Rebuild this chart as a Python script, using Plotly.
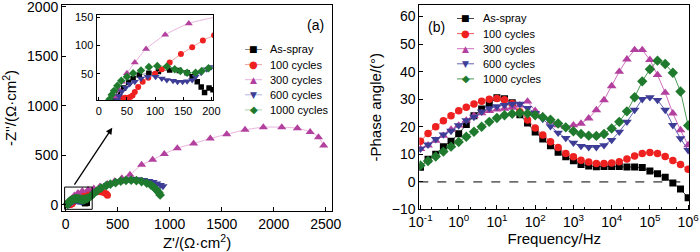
import plotly.graph_objects as go

# ---------------- Nyquist data (Z', -Z'') ----------------
as_zr = [22, 27, 36, 44, 53, 61, 72, 89, 106, 126, 143, 157, 166, 175, 182, 188, 196, 203]
as_zi = [2, 9, 16, 25, 35, 42, 48, 51, 54, 57, 56, 52, 45, 36, 27, 17, 25, 22]

c100_zr = [38, 42, 47, 52, 56, 60, 64, 70, 78, 88, 100, 112, 126, 146, 166, 185, 205, 228, 255, 290, 330, 365, 390, 402]
c100_zi = [4, 7, 8, 8, 9, 12, 18, 27, 36, 43, 50, 58, 70, 85, 97, 109, 118, 127, 134, 136, 132, 125, 112, 98]

c300_zr = [30, 36, 41, 50, 64, 84, 118, 160, 215, 270, 330, 400, 470, 540, 618, 730, 836, 948, 1073, 1230,
           1390, 1548, 1724, 1900, 2077, 2227, 2350, 2430, 2480]
c300_zi = [9, 22, 36, 51, 70, 94, 119, 139, 152, 165, 185, 210, 238, 268, 305, 405, 455, 515, 573, 620,
           670, 714, 758, 785, 785, 775, 737, 684, 600]

c600_zr = [33, 36, 41, 48, 55, 64, 75, 87, 101, 112, 121, 132, 140, 149, 157, 166, 172, 182, 192, 200,
           215, 245, 275, 310, 350, 400, 450, 500, 550, 600, 650, 700, 750, 800, 840, 875, 910, 935]
c600_zi = [4, 11, 19, 26, 32, 36, 42, 45, 45, 42, 39, 38, 36, 36, 37, 39, 45, 52, 58, 62,
           70, 90, 115, 145, 175, 200, 222, 238, 250, 258, 262, 260, 252, 240, 230, 215, 200, 188]

c1000_zr = [19, 23, 27, 33, 40, 50, 61, 75, 89, 104, 121, 135, 145, 157, 172, 183, 195, 210, 240, 265,
            300, 340, 390, 430, 480, 530, 580, 630, 680, 730, 780, 820, 850, 875, 895, 908]
c1000_zi = [5, 13, 20, 29, 38, 45, 51, 56, 62, 64, 63, 58, 55, 52, 52, 55, 60, 65, 85, 110,
            140, 170, 195, 210, 225, 240, 248, 250, 245, 235, 220, 200, 175, 150, 125, 100]

# ---------------- Bode data (phase angle) ----------------
freq = [0.1, 0.158, 0.251, 0.398, 0.631, 1.0, 1.58, 2.51, 3.98, 6.31,
        10, 15.8, 25.1, 39.8, 63.1, 100, 158, 251, 398, 631,
        1000, 1580, 2510, 3980, 6310, 1e4, 1.58e4, 2.51e4, 3.98e4, 6.31e4,
        1e5, 1.58e5, 2.51e5, 3.98e5, 6.31e5, 1e6]
ph_as = [5.3, 8.2, 10.0, 12.8, 14.8, 17.5, 20.8, 24.0, 26.5, 28.5,
         30.5, 30.2, 28.7, 24.4, 21.4, 18.1, 15.6, 13.1, 10.8, 9.1,
         7.7, 6.3, 5.8, 5.5, 5.6, 5.6, 5.6, 5.4, 5.4, 5.2,
         4.0, 3.0, 1.7, -0.4, -2.6, -5.7]
ph_100 = [14.8, 17.6, 20.0, 22.2, 24.0, 25.8, 27.1, 28.3, 29.3, 30.0,
          30.3, 29.8, 28.5, 25.5, 22.5, 19.6, 17.0, 14.6, 12.5, 10.3,
          9.1, 7.9, 7.2, 6.7, 6.7, 6.9, 7.3, 8.3, 9.4, 10.3,
          10.7, 10.3, 9.2, 7.8, 6.3, 4.6]
ph_300 = [12.0, 13.3, 15.0, 16.8, 19.0, 20.5, 22.3, 24.0, 25.0, 25.8,
          26.3, 26.6, 27.0, 27.8, 29.2, 25.8, 23.8, 21.9, 20.6, 20.0,
          20.6, 21.2, 23.1, 26.1, 29.7, 34.8, 40.0, 44.5, 47.9, 47.9,
          44.3, 38.8, 32.4, 24.9, 18.8, 13.4]
ph_600 = [12.0, 13.5, 15.5, 17.2, 18.5, 20.5, 22.3, 23.6, 25.5, 26.7,
          27.4, 27.9, 28.3, 28.3, 26.8, 25.0, 22.8, 20.2, 17.8, 15.9,
          14.2, 13.0, 12.6, 12.6, 13.3, 15.2, 18.2, 21.8, 26.1, 30.0,
          30.7, 29.7, 26.1, 20.6, 15.8, 11.5]
ph_1000 = [6.0, 7.6, 9.2, 11.0, 12.8, 14.5, 16.4, 18.2, 20.0, 21.8,
           23.2, 24.2, 24.7, 25.0, 24.8, 24.2, 23.5, 22.6, 21.2, 19.8,
           18.4, 17.4, 16.8, 16.7, 17.4, 19.4, 21.8, 25.6, 30.7, 36.5,
           40.9, 44.0, 42.8, 39.6, 32.8, 20.5]

# tick labels
freq_tickvals = [0.1, 1, 10, 100, 1000, 1e4, 1e5, 1e6]
freq_ticktext = ["10<sup>-1</sup>", "10<sup>0</sup>", "10<sup>1</sup>", "10<sup>2</sup>",
                 "10<sup>3</sup>", "10<sup>4</sup>", "10<sup>5</sup>", "10<sup>6</sup>"]

names = ["As-spray", "100 cycles", "300 cycles", "600 cycles", "1000 cycles"]
nyq_x = [as_zr, c100_zr, c300_zr, c600_zr, c1000_zr]
nyq_y = [as_zi, c100_zi, c300_zi, c600_zi, c1000_zi]
bode_y = [ph_as, ph_100, ph_300, ph_600, ph_1000]

symbols = ["square", "circle", "triangle-up", "triangle-down", "diamond"]
glyphs = ["■", "●", "▲", "▼", "◆"]
glyph_sizes = [9, 10, 9, 9, 10]
mcolors = ["#000000", "#ee2020", "#b3409e", "#3d3d96", "#1f7a2e"]
nyq_line = ["#8a8a8a", "#f3a0a0", "#e9b3de", "#b4b4e2", "#a6d3a8"]
bode_line = ["#444444", "#f05a5a", "#cf6fbf", "#6464b4", "#4c9a55"]
msize = [6.5, 7, 8, 8, 7.5]

FONT = "Liberation Sans, Arial, sans-serif"
W, H = 700, 252
fig = go.Figure()

for i in range(5):
    fig.add_trace(go.Scatter(
        x=nyq_x[i], y=nyq_y[i], name=names[i], mode="lines+markers", showlegend=False,
        line=dict(color=nyq_line[i], width=1, shape="spline", smoothing=0.6),
        marker=dict(symbol=symbols[i], color=mcolors[i], size=msize[i], line=dict(width=0)),
        xaxis="x", yaxis="y"))
for i in range(5):
    fig.add_trace(go.Scatter(
        x=nyq_x[i], y=nyq_y[i], name=names[i], mode="lines+markers", showlegend=False,
        line=dict(color=nyq_line[i], width=1, shape="spline", smoothing=0.6),
        marker=dict(symbol=symbols[i], color=mcolors[i], size=msize[i] - 1, line=dict(width=0)),
        xaxis="x3", yaxis="y3"))
for i in range(5):
    fig.add_trace(go.Scatter(
        x=freq, y=bode_y[i], name=names[i], mode="lines+markers", showlegend=False,
        line=dict(color=bode_line[i], width=1),
        marker=dict(symbol=symbols[i], color=mcolors[i], size=msize[i] + 0.5, line=dict(width=0)),
        xaxis="x2", yaxis="y2"))

axis_common = dict(showline=True, linecolor="black", linewidth=1, mirror=True,
                   ticks="inside", ticklen=4, tickcolor="black", showgrid=False,
                   zeroline=False, tickfont=dict(size=14, color="black", family=FONT),
                   automargin=False, ticklabeloverflow="allow")
inset_common = {**axis_common, "tickfont": dict(size=11, color="black", family=FONT), "ticklen": 3}

fig.update_layout(
    width=W, height=H,
    margin=dict(l=0, r=0, t=0, b=0),
    paper_bgcolor="white", plot_bgcolor="white",
    font=dict(family=FONT, color="black"),
    showlegend=False,
    hovermode=False,
    xaxis=dict(domain=[0.0886, 0.4743], range=[-35, 2560], tickvals=[0, 500, 1000, 1500, 2000, 2500],
               title=dict(text="Z'/(Ω·cm<sup>2</sup>)", font=dict(size=15), standoff=4), **axis_common),
    yaxis=dict(domain=[0.1627, 0.9802], range=[-62, 2020], tickvals=[0, 500, 1000, 1500, 2000],
               title=dict(text="-Z''/(Ω·cm<sup>2</sup>)", font=dict(size=15), standoff=6), **axis_common),
    xaxis2=dict(domain=[0.599, 0.9847], type="log", range=[-1.03, 6.03],
                tickvals=freq_tickvals, ticktext=freq_ticktext,
                minor=dict(ticks="inside", ticklen=2, tickcolor="black", showgrid=False),
                title=dict(text="Frequency/Hz", font=dict(size=15), standoff=4),
                anchor="y2", **axis_common),
    yaxis2=dict(domain=[0.1687, 0.9802], range=[-10, 64.2], tickvals=[-10, 0, 10, 20, 30, 40, 50, 60],
                title=dict(text="-Phase angle/(°)", font=dict(size=15), standoff=6),
                anchor="x2", **axis_common),
    xaxis3=dict(domain=[0.1379, 0.3043], range=[-4, 203], tickvals=[0, 50, 100, 150, 200],
                anchor="y3", **inset_common),
    yaxis3=dict(domain=[0.6012, 0.9385], range=[3, 153], tickvals=[50, 100, 150],
                anchor="x3", **inset_common),
)

fig.add_shape(type="rect", xref="x", yref="y", x0=-10, x1=255, y0=-45, y1=180,
              line=dict(color="black", width=1))
fig.add_shape(type="line", xref="x2 domain", yref="y2", x0=0, x1=1, y0=0, y1=0,
              line=dict(color="black", width=1, dash="dash"))

fig.add_annotation(x=448, y=780, ax=75, ay=190, xref="x", yref="y", axref="x", ayref="y",
                   showarrow=True, arrowhead=2, arrowsize=1, arrowwidth=1.3, arrowcolor="black", text="")
fig.add_annotation(x=315 / W, y=1 - 15 / H, xref="paper", yref="paper", text="(a)", showarrow=False,
                   font=dict(size=14, family=FONT, color="black"))
fig.add_annotation(x=436 / W, y=1 - 17 / H, xref="paper", yref="paper", text="(b)", showarrow=False,
                   font=dict(size=14, family=FONT, color="black"))

# legend keys (one block per panel): line, symbol glyph, label
legend_blocks = [  # (line x0, line x1, text x, first row y, row step) in pixels
    (245, 262, 268, 49.5, 15.1),
    (457, 474, 481, 18.5, 15.1),
]
for lx0, lx1, tx, y0, dy in legend_blocks:
    for i in range(5):
        yy = 1 - (y0 + dy * i) / H
        col_line = nyq_line[i] if lx0 < 350 else bode_line[i]
        fig.add_shape(type="line", xref="paper", yref="paper", x0=lx0 / W, x1=lx1 / W, y0=yy, y1=yy,
                      line=dict(color=col_line, width=1))
        fig.add_annotation(x=(lx0 + lx1) / 2 / W, y=yy, xref="paper", yref="paper", text=glyphs[i],
                           showarrow=False, xanchor="center", yanchor="middle",
                           font=dict(size=glyph_sizes[i], family="DejaVu Sans", color=mcolors[i]))
        fig.add_annotation(x=tx / W, y=yy, xref="paper", yref="paper", text=names[i],
                           showarrow=False, xanchor="left", yanchor="middle",
                           font=dict(size=11, family=FONT, color="black"))

fig.write_html("out.html", config={"displayModeBar": False},
               post_script="document.body.style.margin='0px';document.body.style.overflow='hidden';")
